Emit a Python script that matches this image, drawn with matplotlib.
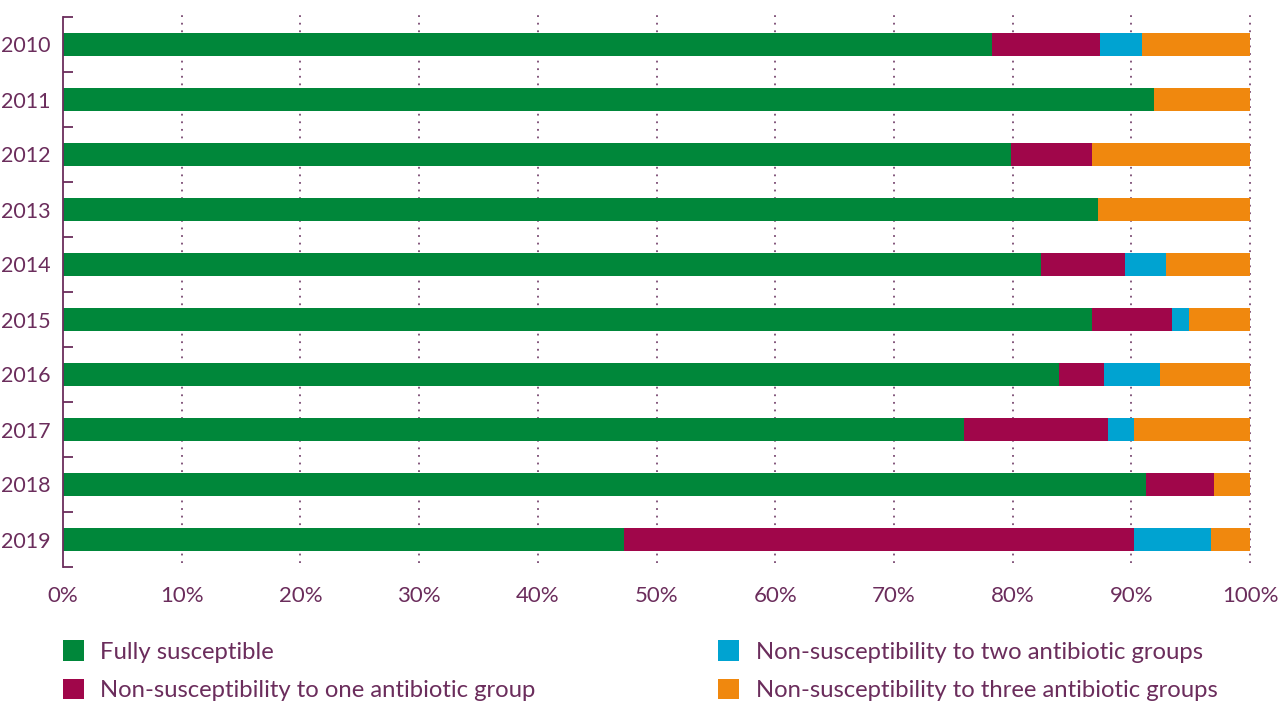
import matplotlib
matplotlib.use("Agg")
import matplotlib.pyplot as plt
from matplotlib.patches import Patch
import numpy as np

years = ["2010", "2011", "2012", "2013", "2014", "2015", "2016", "2017", "2018", "2019"]
fully = [78.3, 91.9, 79.9, 87.2, 82.4, 86.7, 83.9, 75.9, 91.2, 47.3]
one_group = [9.1, 0.0, 6.8, 0.0, 7.1, 6.7, 3.8, 12.1, 5.8, 42.9]
two_groups = [3.5, 0.0, 0.0, 0.0, 3.4, 1.5, 4.7, 2.2, 0.0, 6.5]
three_groups = [9.1, 8.1, 13.3, 12.8, 7.1, 5.1, 7.6, 9.8, 3.0, 3.3]
series_labels = ["Fully susceptible",
                 "Non-susceptibility to one antibiotic group",
                 "Non-susceptibility to two antibiotic groups",
                 "Non-susceptibility to three antibiotic groups"]
x_ticks = [0, 10, 20, 30, 40, 50, 60, 70, 80, 90, 100]
x_tick_labels = [f"{v}%" for v in x_ticks]

colors = ["#00873A", "#A0064A", "#00A3D1", "#F0880E"]
text_color = "#6B2D5C"
plt.rcParams["font.family"] = ["Lato", "DejaVu Sans"]

fig = plt.figure(figsize=(12.79, 7.01), dpi=100)
ax = fig.add_axes([63/1279, 1-567/701, (1250-63)/1279, (567-17)/701])

ypos = np.arange(len(years))
left = np.zeros(len(years))
for vals, c, lab in zip([fully, one_group, two_groups, three_groups], colors, series_labels):
    vals = np.array(vals)
    ax.barh(ypos, vals, left=left, height=0.43, color=c, label=lab, zorder=2, linewidth=0)
    left += vals

ax.set_xlim(0, 100)
ax.set_ylim(len(years) - 0.5, -0.5)

for v in x_ticks[1:]:
    ax.axvline(v, ymin=0.007, ymax=1.007, color="#7A4A72", linestyle=(0, (1, 3.2)),
               linewidth=1.3, zorder=1, clip_on=False)

ax.set_xticks(x_ticks)
ax.set_xticklabels(x_tick_labels, fontsize=16, color=text_color)
ax.tick_params(axis="x", length=0, pad=14)

ax.set_yticks(np.arange(-0.5, len(years), 1.0))
ax.set_yticklabels([])
ax.tick_params(axis="y", which="major", direction="in", length=7, width=1.3, color=text_color)
ax.set_yticks(ypos, minor=True)
ax.set_yticklabels(years, minor=True, fontsize=15.5, color=text_color)
ax.tick_params(axis="y", which="minor", length=0, pad=9)

for s in ["top", "right", "bottom"]:
    ax.spines[s].set_visible(False)
ax.spines["left"].set_color(text_color)
ax.spines["left"].set_linewidth(1.3)

handles = [Patch(facecolor=c, edgecolor="none") for c in colors]
leg = fig.legend(handles, series_labels, loc="upper left",
                 bbox_to_anchor=(63/1279, 1-640/701), ncol=2, frameon=False,
                 fontsize=17.2, borderpad=0, borderaxespad=0,
                 handlelength=0.88, handleheight=0.95, handletextpad=0.68,
                 columnspacing=7.65, labelspacing=0.68)
for t in leg.get_texts():
    t.set_color(text_color)

fig.savefig("out.png", dpi=100)
